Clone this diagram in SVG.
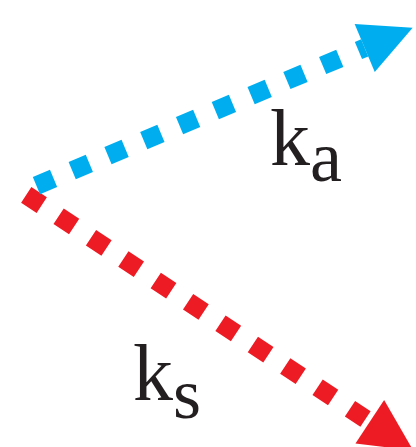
<svg xmlns="http://www.w3.org/2000/svg" width="416" height="447" viewBox="0 0 416 447">
  <style>
    .dot { fill: none; stroke-width: 18.6; stroke-dasharray: 18.6 20.2; stroke-linecap: butt; }
    .red { stroke: #ED1C24; }
    .blue { stroke: #00AEEF; }
    .lbl { font-family: "Liberation Serif", "Times New Roman", serif; fill: #231F20; font-size: 80px; }
    .sub { font-size: 72px; }
  </style>
  <defs>
    <marker id="headRed" markerUnits="userSpaceOnUse" markerWidth="52" markerHeight="52" viewBox="0 0 50 50" refX="0" refY="25" orient="auto" overflow="visible">
      <path d="M0,0 L50,25 L0,50 Z" fill="#ED1C24"/>
    </marker>
    <marker id="headBlue" markerUnits="userSpaceOnUse" markerWidth="52" markerHeight="52" viewBox="0 0 50 50" refX="0" refY="25" orient="auto" overflow="visible">
      <path d="M0,0 L50,25 L0,50 Z" fill="#00AEEF"/>
    </marker>
  </defs>
  <g id="connectors">
    <path id="edge-ks" class="dot red" d="M26.24,194.87 L369.8,421.8" marker-end="url(#headRed)"/>
    <path id="edge-ka" class="dot blue" d="M36.42,185.6 L364.7,47.9" marker-end="url(#headBlue)"/>
  </g>
  <g id="label-ka">
    <text class="lbl" x="270" y="165">k<tspan class="sub" x="310" y="181">a</tspan></text>
  </g>
  <g id="label-ks">
    <text class="lbl" x="133" y="400">k<tspan class="sub" x="173" y="418">s</tspan></text>
  </g>
</svg>
